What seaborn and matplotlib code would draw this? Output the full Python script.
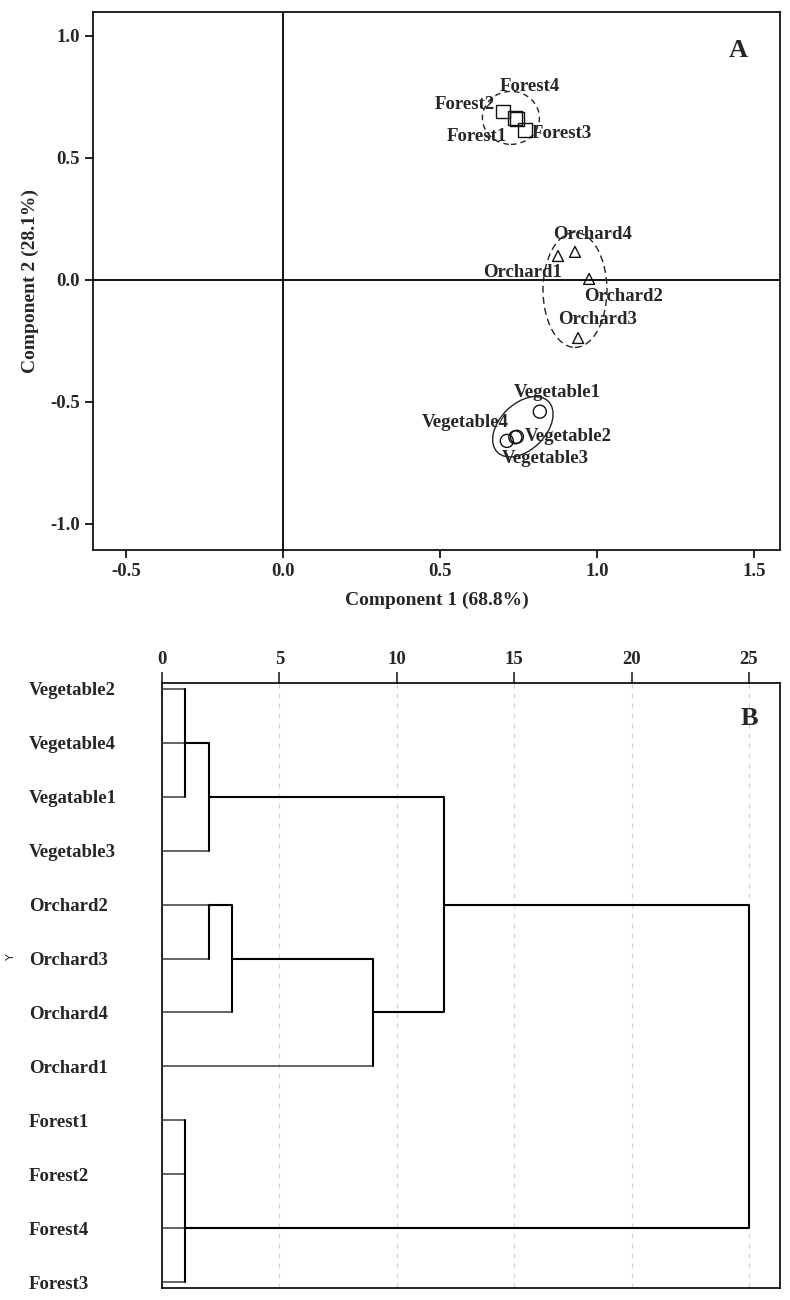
import numpy as np
import pandas as pd
import matplotlib
matplotlib.use("Agg")
import matplotlib.pyplot as plt
import matplotlib.transforms as mtransforms
from matplotlib.patches import Ellipse
import seaborn as sns

# ---------------- data: PCA (panel A) ----------------
samples = ["Forest1", "Forest2", "Forest3", "Forest4",
           "Orchard1", "Orchard2", "Orchard3", "Orchard4",
           "Vegetable1", "Vegetable2", "Vegetable3", "Vegetable4"]
groups = ["Forest"] * 4 + ["Orchard"] * 4 + ["Vegetable"] * 4
pc1 = [0.745, 0.700, 0.770, 0.740, 0.876, 0.975, 0.940, 0.930, 0.818, 0.745, 0.713, 0.740]
pc2 = [0.660, 0.690, 0.615, 0.665, 0.098, 0.004, -0.238, 0.115, -0.540, -0.643, -0.660, -0.645]
x_ticks_a = [-0.5, 0.0, 0.5, 1.0, 1.5]
y_ticks_a = [-1.0, -0.5, 0.0, 0.5, 1.0]

# ---------------- data: dendrogram (panel B) ----------------
leaf_labels = ["Vegetable2", "Vegetable4", "Vegatable1", "Vegetable3",
               "Orchard2", "Orchard3", "Orchard4", "Orchard1",
               "Forest1", "Forest2", "Forest4", "Forest3"]
merge_rows = [[0, 1, 2], [1, 3], [4, 5], [4, 6], [5, 7], [2, 6], [8, 9, 10, 11], [4, 10]]
merge_dist = [1, 2, 2, 3, 9, 12, 1, 25]
merge_out = [1, 2, 4, 5, 6, 4, 10, 7]
x_ticks_b = [0, 5, 10, 15, 20, 25]

# ---------------- style ----------------
sns.set_style("ticks")
plt.rcParams["font.family"] = ["Liberation Serif", "DejaVu Serif"]
plt.rcParams["font.weight"] = "bold"
plt.rcParams["axes.linewidth"] = 1.2

fig = plt.figure(figsize=(7.9, 13), dpi=100)
W, H = 790, 1300
ax1 = fig.add_axes([93 / W, 1 - 550 / H, 687 / W, 538 / H])
ax2 = fig.add_axes([162 / W, 1 - 1288 / H, 618 / W, 605 / H])

# ---------------- panel A ----------------
df = pd.DataFrame({"sample": samples, "group": groups, "pc1": pc1, "pc2": pc2})
marker_style = {"Forest": ("s", 100), "Orchard": ("^", 62), "Vegetable": ("o", 88)}
for g, (m, s) in marker_style.items():
    sns.scatterplot(data=df[df.group == g], x="pc1", y="pc2", marker=m, s=s,
                    ax=ax1, legend=False, linewidth=1.0, zorder=3)
for coll in ax1.collections:
    coll.set_facecolor("none")
    coll.set_edgecolor("#111111")

ax1.axhline(0, color="black", lw=1.3, zorder=1)
ax1.axvline(0, color="black", lw=1.3, zorder=1)

label_offsets = {  # pixel offsets of text from the point
    "Forest1": (-40, -18), "Forest2": (-38, 7), "Forest3": (37, -4), "Forest4": (15, 31),
    "Orchard1": (-35, -17), "Orchard2": (34, -18), "Orchard3": (19, 18), "Orchard4": (18, 17),
    "Vegetable1": (17, 19), "Vegetable2": (51, 0), "Vegetable3": (38, -18), "Vegetable4": (-50, 15),
}
for name, x, y in zip(samples, pc1, pc2):
    dx, dy = label_offsets[name]
    ax1.annotate(name, (x, y), xytext=(dx, dy), textcoords="offset pixels",
                 ha="center", va="center", fontsize=13.5, fontweight="bold", zorder=4)

# group ellipses (size in inches)
ell_specs = {"Forest": (0.57, 0.53, 0, (0, (4, 3))),
             "Orchard": (0.64, 1.15, 0, (0, (5, 3))),
             "Vegetable": (0.72, 0.46, 45, "-")}
ell_centres = {"Forest": (0.726, 0.664), "Orchard": (0.930, -0.041), "Vegetable": (0.764, -0.602)}
for g, (w, h, ang, ls) in ell_specs.items():
    cx, cy = ell_centres[g]
    tr = fig.dpi_scale_trans + mtransforms.ScaledTranslation(cx, cy, ax1.transData)
    ax1.add_patch(Ellipse((0, 0), w, h, angle=ang, transform=tr, fill=False,
                          edgecolor="#222222", lw=1.0, linestyle=ls))

ax1.set_xlim(-0.605, 1.583)
ax1.set_ylim(-1.107, 1.098)
ax1.set_xticks(x_ticks_a)
ax1.set_yticks(y_ticks_a)
ax1.set_xticklabels([f"{v:.1f}" for v in x_ticks_a])
ax1.set_yticklabels([f"{v:.1f}" for v in y_ticks_a])
ax1.tick_params(direction="out", length=6, width=1.2, labelsize=13.5, color="black")
ax1.set_xlabel("Component 1 (68.8%)", fontsize=14, fontweight="bold", labelpad=8)
ax1.set_ylabel("Component 2 (28.1%)", fontsize=14, fontweight="bold", labelpad=8)
for sp in ax1.spines.values():
    sp.set_visible(True)
    sp.set_color("black")
ax1.text(0.939, 0.929, "A", transform=ax1.transAxes, fontsize=19, fontweight="bold",
         ha="center", va="center")

# ---------------- panel B ----------------
start = {r: 0 for r in range(len(leaf_labels))}
for rows, d, out in zip(merge_rows, merge_dist, merge_out):
    for r in rows:
        x0 = start.pop(r)
        col = "#3a3a3a" if x0 == 0 else "black"
        lw = 1.1 if x0 == 0 else 1.5
        ax2.plot([x0, d], [r, r], color=col, lw=lw, solid_capstyle="butt", zorder=3)
    ax2.plot([d, d], [min(rows), max(rows)], color="black", lw=1.5, zorder=3)
    start[out] = d

ax2.set_xlim(0, 26.32)
ax2.set_ylim(11.11, -0.11)
ax2.xaxis.tick_top()
ax2.set_xticks(x_ticks_b)
ax2.set_xticklabels([str(v) for v in x_ticks_b])
ax2.tick_params(axis="x", direction="out", length=8, width=1.2, labelsize=13.5, pad=3)
ax2.grid(axis="x", linestyle=(0, (4, 4)), color="#d4d4d4", lw=0.9, zorder=0)
ax2.set_yticks(range(len(leaf_labels)))
ax2.set_yticklabels(leaf_labels, fontsize=13.5, fontweight="bold")
for lab in ax2.get_yticklabels():
    lab.set_horizontalalignment("left")
    lab.set_transform(lab.get_transform() + mtransforms.ScaledTranslation(0, -3 / 100, fig.dpi_scale_trans))
ax2.tick_params(axis="y", length=0, pad=96)
for sp in ax2.spines.values():
    sp.set_visible(True)
    sp.set_color("black")
ax2.set_ylabel("Y", fontsize=8, fontweight="normal", family="DejaVu Sans")
ax2.yaxis.set_label_coords(-0.236, 0.547)
ax2.text(0.951, 0.942, "B", transform=ax2.transAxes, fontsize=19, fontweight="bold",
         ha="center", va="center")

fig.savefig("out.png", dpi=100)
